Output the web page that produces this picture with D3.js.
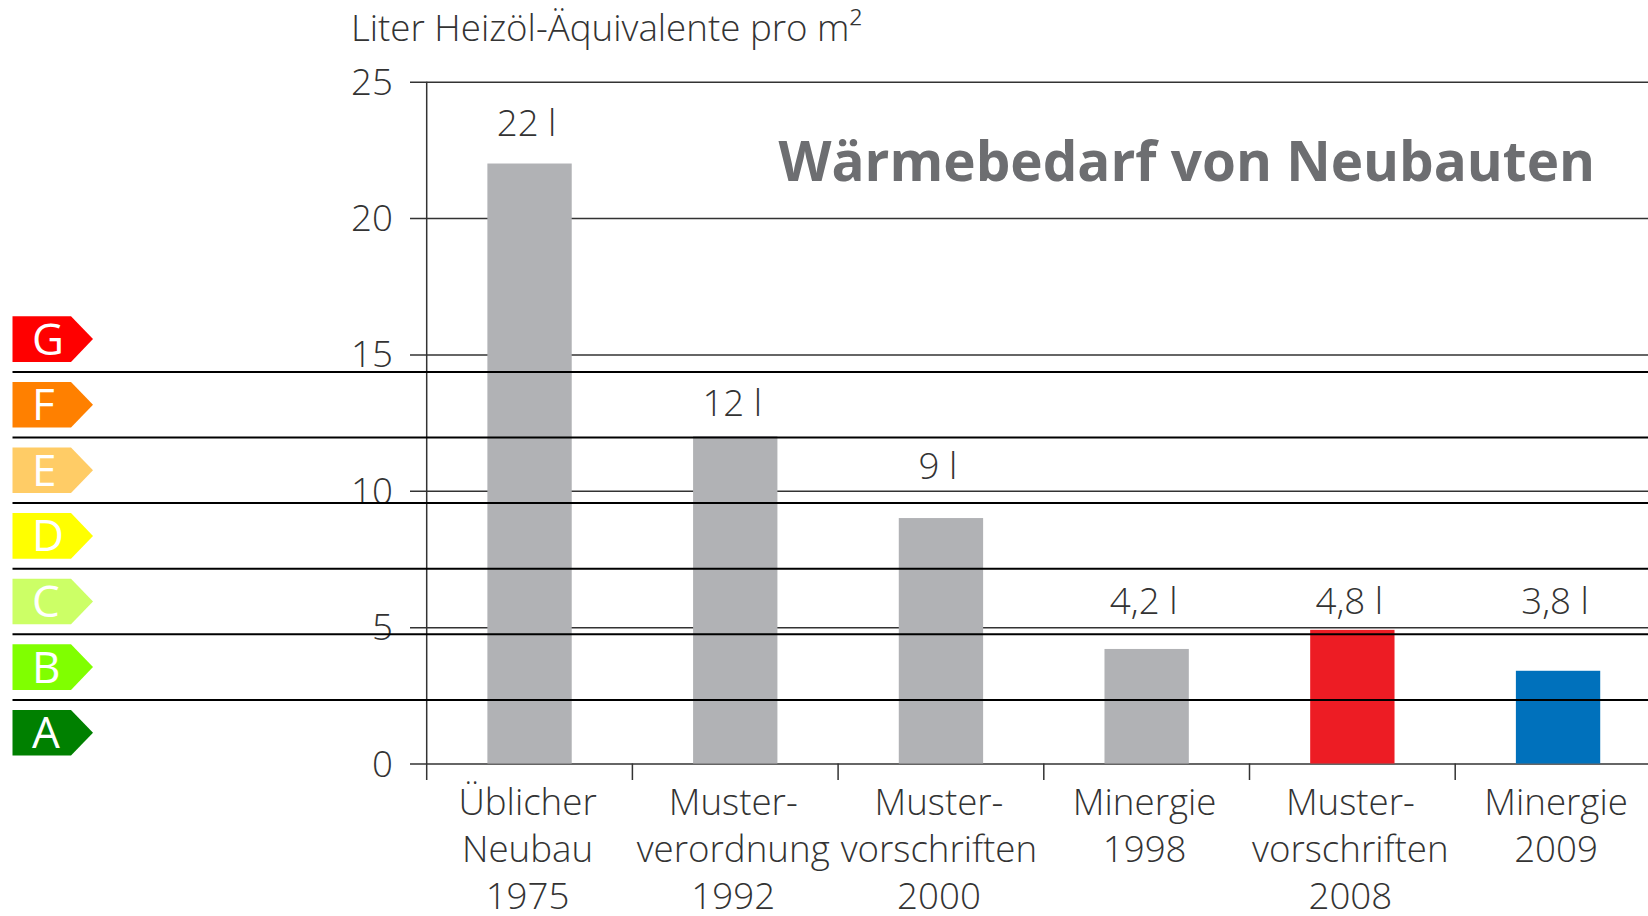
<!DOCTYPE html>
<html lang="de">
<head>
<meta charset="utf-8">
<script src="https://cdn.jsdelivr.net/npm/d3@7"></script>
<style>
  html, body { margin: 0; padding: 0; background: #fff; overflow: hidden; }
  text { font-family: "Open Sans", sans-serif; font-weight: 300; font-size: 36.7px; fill: #333; }
  .titulo { font-weight: 700; font-size: 54.8px; fill: #6d6e71; }
  .klasse { font-weight: 400; font-size: 44px; fill: #fff; }
</style>
</head>
<body>
<div id="graf"></div>
<script>
// Datos
const categorias = [
  ["Üblicher", "Neubau", "1975"],
  ["Muster-", "verordnung", "1992"],
  ["Muster-", "vorschriften", "2000"],
  ["Minergie", "1998"],
  ["Muster-", "vorschriften", "2008"],
  ["Minergie", "2009"],
]
const valores = [22, 12, 9, 4.2, 4.9, 3.4]
const etiquetasValor = ["22 l", "12 l", "9 l", "4,2 l", "4,8 l", "3,8 l"]
const coloresBarra = ["#b1b2b5", "#b1b2b5", "#b1b2b5", "#b1b2b5", "#ed1c24", "#0071bc"]
const clases = ["G", "F", "E", "D", "C", "B", "A"]
const coloresClase = ["#ff0000", "#ff8000", "#ffcc66", "#ffff00", "#ccff66", "#80ff00", "#008000"]
const ticksY = [0, 5, 10, 15, 20, 25]

// Dimensiones
const anchoTotal = 1648
const altoTotal = 916
const ejeX = 426.7
const paso = 205.7
const y0 = 763.5
const y25 = 81.7
const largoTick = 16.5

// Altura de las etiquetas de valor, en unidades del eje
const nivelEtiqueta = [23, 12.75, 10.45, 5.5, 5.5, 5.5]

const svg = d3.select("#graf")
  .append("svg")
  .attr("width", anchoTotal)
  .attr("height", altoTotal)
  .style("display", "block")

// Escaladores
const y = d3.scaleLinear().domain([0, 25]).range([y0, y25])
const x = d3.scaleBand()
  .domain(d3.range(categorias.length))
  .range([ejeX, ejeX + paso * categorias.length])
  .paddingInner(0.59)
  .paddingOuter(0.295)
const filas = d3.scaleBand()
  .domain(clases)
  .range([306.3, 306.3 + 65.6 * clases.length])

// Cuadrícula y números del eje Y
const yAxis = d3.axisLeft(y)
  .tickValues(ticksY)
  .tickSize(-(anchoTotal - 410))
  .tickPadding(17)

const yAxisGroup = svg.append("g")
  .attr("transform", "translate(410, 0)")
  .call(yAxis)
yAxisGroup.select(".domain").remove()
yAxisGroup.selectAll("line").attr("stroke", "#333").attr("stroke-width", 1.5)
yAxisGroup.selectAll("text")
  .attr("dy", 12.5)
  .style("font-family", '"Open Sans", sans-serif')
  .style("font-size", "36.7px")

// Barras
svg.append("g")
  .selectAll("rect")
  .data(valores)
  .enter()
  .append("rect")
  .attr("x", (d, i) => x(i))
  .attr("y", (d) => y(d))
  .attr("width", x.bandwidth())
  .attr("height", (d) => y0 - y(d))
  .attr("fill", (d, i) => coloresBarra[i])

// Eje vertical y marcas del eje X
svg.append("line")
  .attr("x1", ejeX).attr("x2", ejeX)
  .attr("y1", y25).attr("y2", y0 + largoTick)
  .attr("stroke", "#333").attr("stroke-width", 1.5)

svg.append("g")
  .selectAll("line")
  .data(d3.range(1, categorias.length))
  .enter()
  .append("line")
  .attr("x1", (d) => x(d) - x.step() * 0.295)
  .attr("x2", (d) => x(d) - x.step() * 0.295)
  .attr("y1", y0)
  .attr("y2", y0 + largoTick)
  .attr("stroke", "#333")
  .attr("stroke-width", 1.5)

// Etiquetas de categoría
const catText = svg.append("g")
  .selectAll("text")
  .data(categorias)
  .enter()
  .append("text")
  .attr("text-anchor", "middle")

catText.selectAll("tspan")
  .data((d, i) => d.map((t) => ({ t, i })))
  .enter()
  .append("tspan")
  .attr("x", (d) => x(d.i) + x.bandwidth() / 2 - 2)
  .attr("y", (d, j) => 815 + j * 47)
  .text((d) => d.t)

// Etiquetas de valor
svg.append("g")
  .selectAll("text")
  .data(etiquetasValor)
  .enter()
  .append("text")
  .attr("text-anchor", "middle")
  .attr("x", (d, i) => x(i) + x.bandwidth() / 2 - 3)
  .attr("y", (d, i) => y(nivelEtiqueta[i]))
  .text((d) => d)

// Títulos
svg.append("text")
  .attr("x", 351)
  .attr("y", 41)
  .text("Liter Heizöl-Äquivalente pro m²")

svg.append("text")
  .attr("class", "titulo")
  .attr("x", 778.5)
  .attr("y", 181)
  .text("Wärmebedarf von Neubauten")

// Clases de energía
const alturaFlecha = 45.6
const flecha = d3.line()

const clase = svg.append("g")
  .selectAll("g")
  .data(clases)
  .enter()
  .append("g")
  .attr("transform", (d) => `translate(12.5, ${filas(d) + filas.bandwidth() / 2})`)

clase.append("path")
  .attr("d", flecha([
    [0, -alturaFlecha / 2],
    [58.5, -alturaFlecha / 2],
    [80.5, 0],
    [58.5, alturaFlecha / 2],
    [0, alturaFlecha / 2],
  ]) + "Z")
  .attr("fill", (d, i) => coloresClase[i])

clase.append("text")
  .attr("class", "klasse")
  .attr("x", 19.5)
  .attr("y", 15.5)
  .text((d) => d)

// Líneas negras entre clases, por encima de todo
svg.append("g")
  .selectAll("line")
  .data(clases.slice(0, -1))
  .enter()
  .append("line")
  .attr("x1", 12.5)
  .attr("x2", anchoTotal)
  .attr("y1", (d) => filas(d) + filas.step())
  .attr("y2", (d) => filas(d) + filas.step())
  .attr("stroke", "#000")
  .attr("stroke-width", 2)
</script>
</body>
</html>
